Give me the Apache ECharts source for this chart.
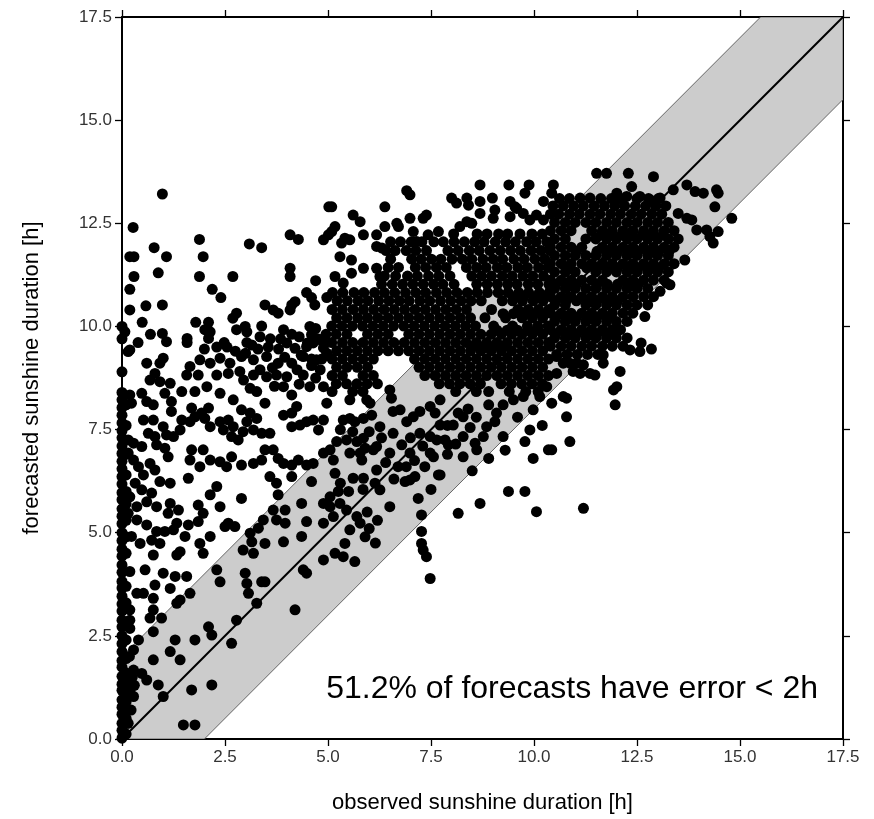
<!DOCTYPE html>
<html><head><meta charset="utf-8">
<script src="https://cdn.jsdelivr.net/npm/echarts@6/dist/echarts.min.js"></script>
<style>html,body{margin:0;padding:0;background:#fff}#c{width:874px;height:819px}</style>
</head><body><div id="c"></div>
<script>
// ---- axis / text ----
const axisMin = 0, axisMax = 17.5, axisStep = 2.5;
const xTitle = 'observed sunshine duration [h]';
const yTitle = 'forecasted sunshine duration [h]';
const note = '51.2% of forecasts have error < 2h';
const errorBand = 2;

// ---- points at observed ~0 h ----
const leftStrip = [
[0,0.02],[0,0.21],[0,0.38],[0,0.6],[0,0.77],[0,0.95],[0,1.18],[0,1.33],[0,1.52],[0,1.74],[0,1.9],[0,2.12],[0,2.31],[0,2.5],[0,2.72],[0,2.88],[0,3.1],[0,3.27],[0,3.46],[0,3.66],[0,3.82],[0,4.04],[0,4.22],[0,4.43],[0,4.6],[0,4.81],[0,5.0],[0,5.22],[0,5.4],[0,5.58],[0,5.8],[0,5.97],[0,6.18],[0,6.36],[0,6.55],[0,6.73],[0,6.92],[0,7.1],[0,7.3],[0,7.47],[0,7.66],[0,7.85],[0,8.03],[0,8.22],[0,8.4],[0,8.9],[0,9.7],[0,10.0],
[0.1,0.12],[0.1,0.5],[0.1,0.9],[0.1,1.1],[0.1,1.4],[0.1,1.6],[0.1,1.95],[0.1,2.4],[0.1,2.8],[0.1,3.3],[0.1,3.7],[0.1,4.5],[0.1,4.9],[0.1,5.3],[0.1,5.7],[0.1,6.0],[0.1,6.4],[0.1,6.9],[0.1,7.6],[0.1,8.1],
[0.22,0.7],[0.28,1.03],[0.3,1.3],[0.25,1.5],[0.28,1.67],[0.18,2.0],[0.15,0.38],[0.2,1.2],[0.03,0.1],[0.11,0.38]
];

// ---- observed 0-5 h, forecast above 9.4 h ----
const upperLeft = [
[0.98,13.21],[0.27,12.40],[0.19,11.69],[0.29,11.69],[0.78,11.91],[1.08,11.69],[0.88,11.30],[0.29,11.21],[0.19,10.90],[0.19,10.40],[0.58,10.50],[0.98,10.52],[0.49,10.10],[0.07,9.87],[0.39,9.61],[0.69,9.81],[0.98,9.83],[1.08,9.63],[1.58,9.71],[1.58,9.61],[1.88,12.11],[1.97,11.69],[1.88,11.21],[2.19,10.90],[2.40,10.70],[1.79,10.10],[2.10,10.10],[2.01,9.92],[2.14,9.87],[2.10,9.71],[2.48,9.61],[2.69,11.21],[3.09,12.00],[3.39,11.91],[2.69,10.20],[2.78,10.32],[2.78,9.92],[2.99,10.00],[3.03,9.87],[3.03,9.61],[3.15,9.55],[3.39,10.01],[3.47,10.52],[3.67,10.40],[3.79,10.32],[4.08,12.22],[4.28,12.11],[4.08,11.41],[4.08,11.21],[4.70,11.11],[4.48,10.82],[4.60,10.70],[4.68,10.52],[4.12,10.52],[4.20,10.60],[4.08,10.40],[4.97,10.70],[4.89,12.10],[5.01,12.22],[5.02,12.90],[3.92,9.92],[4.12,9.81],[4.56,10.00],[4.70,9.95],[4.60,9.80],[4.75,9.70],[4.90,9.60],[4.50,9.60],[0.19,9.43],[4.20,9.47],[4.48,9.51],[4.64,9.60],[4.81,9.68],[4.89,9.48],
[3.3,9.45],[3.55,9.5],[3.8,9.45],[4.0,9.6],[3.6,9.7],[3.35,9.75],[3.85,9.7],[4.3,9.75],[2.3,9.5],[2.0,9.45],[2.75,9.4],[2.55,9.5]
];

// ---- observed 0-5 h, forecast 4.6-9.4 h ----
const midLeft = [
[0.15,9.39],[0.6,9.11],[0.92,9.11],[1.0,9.23],[0.8,8.86],[0.68,8.70],[0.92,8.66],[1.17,8.62],
[1.65,9.03],[1.89,9.19],[2.14,9.11],[2.38,9.23],[2.62,9.11],[2.9,9.27],[3.19,9.19],[3.51,9.27],[3.79,9.11],[4.12,9.11],[4.4,9.27],[4.72,9.19],[4.97,9.35],
[1.57,8.82],[1.85,8.82],[2.3,8.82],[2.58,8.86],[2.86,8.91],[3.19,8.82],[3.51,8.78],[3.75,8.82],[4.0,8.78],[4.4,8.82],[4.81,8.95],
[1.45,8.42],[1.77,8.42],[2.06,8.54],[2.38,8.38],[2.7,8.22],[3.11,8.50],[3.27,8.42],[3.47,8.14],[3.92,8.54],[4.12,8.34],[4.56,8.54],[4.89,8.54],
[4.35,9.3],[3.0,9.35],[3.95,9.25],[4.6,9.05],[4.25,8.95],[3.65,9.0],[3.35,8.95],[2.95,8.7],[3.7,8.55],[4.3,8.6],[4.7,8.75],
[0.19,8.34],[0.48,8.38],[0.23,8.14],[0.6,8.18],[0.76,8.10],[1.04,8.38],[1.2,8.18],[1.2,7.94],
[1.69,8.02],[1.77,7.81],[1.93,7.90],[2.1,8.02],[2.01,7.77],[2.14,7.57],[2.38,7.69],[2.58,7.73],[2.46,7.49],[2.7,7.57],[2.66,7.33],[2.82,7.25],
[2.9,7.98],[3.11,7.90],[3.27,7.77],[3.03,7.69],[3.19,7.49],[2.94,7.45],[3.39,7.41],[3.59,7.41],
[3.92,7.85],[4.12,7.90],[4.24,8.06],[4.12,7.57],[4.32,7.61],[4.48,7.69],[4.64,7.73],[4.77,7.49],[4.89,7.73],[4.97,8.14],
[0.52,7.73],[0.76,7.73],[1.0,7.57],[0.64,7.41],[0.8,7.33],[1.08,7.37],[1.25,7.33],[1.45,7.73],[1.41,7.49],[1.65,7.69],
[0.15,7.25],[0.28,7.17],[0.48,7.09],[0.84,7.13],[1.04,7.05],[1.12,6.84],[0.15,6.93],[0.28,6.76],[0.4,6.60],[0.52,6.40],[0.68,6.68],[0.8,6.52],[0.92,6.24],[1.17,6.20],[0.32,6.20],[0.48,6.04],[0.72,5.96],[0.19,5.87],[0.6,5.75],[0.36,5.63],[0.84,5.63],[1.17,5.71],[1.12,5.47],[1.37,5.55],[0.15,5.47],[0.36,5.31],[0.6,5.19],[0.84,5.03],[1.04,5.03],[1.25,5.07],[0.23,4.91],[0.44,4.74],[0.92,4.74],[0.72,4.82],
[1.69,7.01],[1.97,7.01],[1.65,6.76],[1.61,6.32],[1.89,6.60],[2.14,6.76],[2.38,6.72],[2.54,6.60],[2.66,6.84],[2.9,6.64],[3.19,6.68],[3.39,6.76],[3.47,7.01],[3.67,7.01],[3.79,6.80],[3.92,6.68],[4.12,6.64],[4.28,6.76],[4.48,6.64],[4.64,6.68],[4.89,6.93],[3.59,6.36],[4.12,6.36],[4.6,6.24],[3.75,6.20],
[2.3,6.12],[2.14,5.92],[2.38,5.63],[2.58,5.23],[2.5,5.15],[2.74,5.15],[2.9,5.83],[1.85,5.67],[1.97,5.47],[1.85,5.27],[1.61,5.19],[1.53,4.91],[1.33,5.23],[2.14,4.91],[1.89,4.74],
[3.79,5.92],[3.67,5.55],[3.96,5.55],[3.75,5.31],[3.96,5.23],[4.36,5.71],[4.89,5.71],[3.43,5.31],[3.31,5.11],[3.11,4.99],[3.15,4.78],[3.47,4.74],[4.36,4.91],[3.92,4.78],[4.89,5.23],[4.48,5.27]
];

// ---- observed 0-5 h, forecast below 4.6 h ----
const lowLeft = [
[0.76,4.46],[1.33,4.46],[1.41,4.54],[1.97,4.50],[0.56,4.10],[1.0,4.02],[1.29,3.94],[1.57,3.94],[1.17,3.65],[0.8,3.73],[0.19,4.06],[0.36,3.53],[0.52,3.53],[0.76,3.41],[1.33,3.29],[1.41,3.37],[1.65,3.53],
[0.76,3.13],[0.68,2.93],[0.96,2.93],[0.19,3.13],[0.19,2.88],[0.19,2.68],[0.4,2.40],[0.76,2.60],
[2.3,4.10],[2.38,3.81],[2.99,4.02],[3.03,3.77],[3.07,3.53],[3.39,3.81],[3.47,3.81],[3.27,3.29],[2.78,2.88],[2.94,4.58],[3.19,4.50],
[2.1,2.72],[2.18,2.52],[1.29,2.40],[1.77,2.40],[2.66,2.32],
[0.28,2.16],[1.17,2.12],[1.41,1.92],[0.76,1.92],[0.48,1.59],[0.6,1.43],[0.88,1.31],[1.0,1.03],[1.69,1.19],[2.18,1.31],[1.49,0.34],[1.77,0.34],
[4.2,3.13],[4.4,4.10],[4.48,4.02],[4.89,4.34]
];

// ---- observed 5-10.4 h, upper sparse ----
const upperMid = [
[6.91,13.29],[6.99,13.19],[6.38,12.90],[5.09,12.90],[8.69,13.43],[9.39,13.43],[9.88,13.43],[9.78,13.23],[8.00,13.11],[8.12,12.99],[8.37,13.11],[8.41,12.94],[8.69,13.03],[8.99,13.11],[9.42,13.03],[9.54,12.90],[10.23,13.03],[8.69,12.74],[9.05,12.82],[9.01,12.62],[5.61,12.70],[5.78,12.54],[6.67,12.50],[6.71,12.42],[6.99,12.62],[7.31,12.62],[7.39,12.70],[6.38,12.42],[5.17,12.42],[5.09,12.30],[5.86,12.22],[6.18,12.22],[5.41,12.14],[5.33,12.02],[5.53,12.10],[7.07,12.30],[7.15,12.06],[7.43,12.22],[7.68,12.30],[8.20,12.42],[8.37,12.54],[8.49,12.50],[9.42,12.66],[9.58,12.86],[9.74,12.74],[10.06,12.70],[9.90,12.58],[10.23,12.58],[5.29,11.69],[5.57,11.61],[5.17,11.21],[5.37,11.05],[5.57,11.29],[5.86,11.41],[6.18,11.94],[6.31,11.90],[6.18,11.41],[6.26,11.21]
];

// ---- observed 5-10.4 h, dense core: [forecast, observed...] ----
const coreMidRows = [
[12.24, 8.05,8.62,8.86,9.14,9.36,9.66,9.95,10.2],
[12.05, 6.52,6.76,7.02,7.28,7.57,7.8,8.06,8.31,8.56,8.79,9.06,9.31,9.55,9.82,10.05,10.31],
[11.84, 6.41,6.63,6.9,7.13,7.39,7.91,8.16,8.43,8.67,8.93,9.18,9.43,9.67,9.93,10.17,10.39],
[11.63, 6.52,7.03,7.26,7.51,7.74,8.01,8.26,8.49,8.76,9.01,9.24,9.51,9.76,10.02,10.26],
[11.43, 6.46,6.71,7.12,7.37,7.63,7.87,8.36,8.61,8.84,9.11,9.34,9.61,9.84,10.11,10.34],
[11.22, 6.37,6.64,6.93,7.17,7.44,7.69,7.96,8.49,8.73,8.97,9.23,9.47,9.73,9.97,10.23],
[11.02, 6.3,6.56,6.81,7.06,7.31,7.56,7.79,8.06,8.61,8.86,9.11,9.36,9.59,9.86,10.09,10.36],
[10.82, 5.11,5.36,5.63,5.87,6.13,6.37,6.62,6.88,7.13,7.37,7.63,7.88,8.13,8.38,8.62,8.87,9.13,9.37,9.63,9.87,10.13,10.37],
[10.72, 9.5,9.75,10.0,10.25],
[10.62, 5.22,5.47,5.73,5.97,6.23,6.48,6.73,6.97,7.23,7.47,7.73,7.98,8.23,8.47,8.72,9.23,9.48,9.72,9.98,10.22],
[10.41, 5.1,5.35,5.61,5.86,6.11,6.36,6.61,6.86,7.11,7.36,7.61,7.86,8.11,8.36,8.97,9.61,9.86,10.11,10.36],
[10.31, 9.25,9.5,9.75,10.0,10.25],
[10.21, 5.21,5.46,5.72,5.96,6.21,6.46,6.71,6.96,7.21,7.46,7.71,7.96,8.21,8.46,8.81,9.31,9.71,9.96,10.21],
[10.01, 5.09,5.34,5.59,5.84,6.09,6.34,6.59,6.84,7.09,7.34,7.59,7.84,8.09,8.34,8.58,9.02,9.48,9.84,10.09,10.34],
[9.91, 9.1,9.35,9.6,9.85,10.1],
[9.81, 4.95,5.2,5.46,5.96,6.21,6.46,6.96,7.21,7.46,7.71,7.96,8.21,8.46,8.71,8.96,9.21,9.46,9.71,9.96,10.21],
[9.61, 5.09,5.35,5.6,5.85,6.1,6.35,6.6,6.85,7.1,7.35,7.6,7.85,8.1,8.35,8.6,8.85,9.1,9.35,9.6,9.85,10.1,10.35],
[9.51, 8.5,8.75,9.0,9.25],
[9.41, 5.21,5.46,5.71,5.96,6.21,6.46,6.71,6.96,7.21,7.46,7.71,7.96,8.21,8.46,8.71,8.96,9.21,9.46,9.71,9.96,10.21],
[9.21, 4.6,4.85,5.1,5.35,5.6,5.85,6.1,7.1,7.35,7.6,7.85,8.1,8.35,8.6,8.85,9.1,9.35,9.6,9.85,10.1,10.35],
[9.01, 5.21,5.46,5.71,5.96,7.21,7.46,7.71,7.96,8.21,8.46,8.71,8.96,9.21,9.46,9.71,9.96,10.21],
[8.81, 5.1,5.35,5.85,6.1,7.35,7.6,7.85,8.1,8.35,8.6,8.85,9.1,9.35,9.6,9.85,10.1,10.35],
[8.61, 5.2,5.45,5.7,5.95,6.2,7.7,7.95,8.2,8.45,8.7,9.2,9.45,9.7,9.95,10.2],
[8.42, 5.1,5.6,5.85,8.1,8.6,8.9,9.4,9.8,10.1]
];

// ---- observed 5-10.4 h, below the dense core ----
const lowerMid = [
[5.53,8.22],[5.94,8.22],[6.02,8.14],[5.37,7.73],[5.53,7.77],[5.65,7.69],[5.86,7.77],[6.06,7.85],[6.50,8.46],[6.54,8.26],[6.58,7.94],[6.75,7.98],[6.91,7.69],[7.07,7.81],[7.23,7.94],[7.48,8.06],[7.72,8.22],[6.26,7.57],[6.58,7.41],[6.79,7.13],[6.99,6.93],[7.23,7.41],[7.48,7.33],[7.72,7.61],[5.05,7.01],[5.21,7.21],[5.45,7.25],[5.70,7.21],[5.86,7.29],[5.13,6.76],[5.17,6.44],[5.53,6.93],[5.78,6.93],[5.82,6.76],[6.10,7.01],[6.18,7.09],[5.61,6.32],[5.86,6.32],[6.18,6.52],[6.14,6.20],[6.26,6.04],[6.50,6.93],[7.48,6.93],[7.56,6.84],[7.72,6.40],[7.64,7.25],[7.84,7.25],[7.92,7.13],[8.04,7.61],[8.16,7.90],[8.28,7.81],[8.28,7.33],[8.57,7.17],[8.61,7.01],[8.77,7.33],[8.85,7.57],[9.05,7.69],[9.09,7.90],[9.25,8.10],[9.50,8.22],[9.74,8.30],[9.98,7.98],[10.14,8.30],[10.31,8.54],[9.25,7.33],[8.28,6.84],[6.87,6.24],[6.99,6.28],[7.11,6.36],[7.19,5.83],[6.50,5.63],[7.27,5.43],[7.27,5.03],[7.27,4.74],[7.68,6.40],[8.16,5.47],[8.69,5.71],[9.38,6.00],[9.78,6.00],[10.06,5.51],[9.90,7.49],[9.78,7.21],[9.98,6.80],[10.35,7.01],[5.05,5.87],[5.29,5.71],[5.45,5.55],[5.70,5.39],[5.78,5.23],[5.53,5.07],[5.41,4.74],[5.05,5.63],[5.13,5.39],
[5.3,7.5],[5.6,7.45],[6.0,7.45],[6.3,7.3],[5.9,7.05],[6.4,6.7],[6.7,6.6],[6.9,6.6],[6.6,6.3],[7.0,7.3],[7.3,7.1],[7.1,6.75],[7.35,6.6],[7.9,6.9],[8.1,7.15],[8.45,7.55],[8.6,7.8],[8.9,8.1],[7.9,7.6],[7.6,7.9],[8.4,8.0],[5.3,6.2],[5.5,6.0],[5.85,6.05],[5.25,6.0],[7.5,6.05],[8.5,6.5],[8.9,6.8],[9.3,7.0],[9.6,7.8],[10.2,7.6],[5.95,5.5],[6.2,5.3],[5.9,4.9],[6.15,4.75],[6.0,5.1],
[5.17,4.50],[5.37,4.42],[5.65,4.30],[7.31,4.58],[7.39,4.42],[7.48,3.89]
];

// ---- observed above 10.4 h, sparse ----
const upperRight = [
[11.52,13.71],[11.76,13.71],[12.29,13.71],[12.90,13.63],[10.47,13.43],[10.43,13.23],[11.12,13.11],[11.36,13.11],[12.37,13.39],[12.01,13.23],[12.25,13.15],[12.57,13.15],[12.82,13.07],[13.06,13.11],[13.38,13.31],[13.71,13.43],[13.91,13.27],[14.11,13.23],[14.43,13.31],[14.47,13.23],[14.39,12.90],[14.80,12.62],[13.50,12.74],[13.71,12.62],[13.83,12.58],[13.95,12.34],[14.19,12.34],[14.27,12.18],[14.47,12.30],[14.35,12.02],[13.66,11.61],[12.69,10.24],[13.22,11.05],[13.30,11.01],[13.06,10.85],[12.6,9.6],[12.85,9.45]
];

// ---- observed above 10.4 h, dense core: [forecast, observed...] ----
const coreRightRows = [
[13.1, 10.62,10.86,11.62,11.88,12.08,12.5,12.78,13.02],
[12.92, 10.46,10.71,10.96,11.2,11.46,11.71,11.96,12.2,12.46,12.71,12.96,13.2],
[12.72, 10.4,10.6,10.86,11.1,11.36,11.6,11.86,12.1,12.36,12.6,12.86,13.1],
[12.52, 10.5,10.76,11.0,11.26,11.5,11.76,12.0,12.26,12.5,12.76,13.0,13.26],
[12.32, 10.4,10.66,10.9,11.4,11.66,11.9,12.16,12.4,12.66,12.9,13.16,13.4],
[12.22, 11.63,11.88,12.13,12.38,12.63,12.88,13.13],
[12.12, 10.5,10.76,11.26,11.5,11.76,12.0,12.26,12.5,12.76,13.0,13.26,13.5],
[11.92, 10.4,10.66,10.9,11.16,11.66,11.9,12.16,12.4,12.66,12.9,13.16,13.4],
[11.82, 11.03,11.53,11.78,12.03,12.28,12.53,12.78,13.03,13.28],
[11.72, 10.5,10.76,11.0,11.26,11.5,11.76,12.0,12.26,12.5,12.76,13.0,13.26],
[11.52, 10.4,10.66,10.9,11.16,11.4,11.66,11.9,12.16,12.4,12.66,12.9,13.16,13.4],
[11.42, 10.78,11.28,11.53,11.78,12.03,12.28,12.53,12.78,13.03],
[11.32, 10.5,10.76,11.0,11.5,11.76,12.0,12.26,12.5,12.76,13.0,13.26],
[11.12, 10.4,10.66,10.9,11.16,11.4,11.66,12.16,12.4,12.66,12.9,13.16],
[11.02, 10.53,10.78,11.03,11.53,11.78,12.03,12.28,12.53],
[10.92, 10.5,10.76,11.0,11.26,11.5,11.76,12.0,12.26,12.5,12.76],
[10.72, 10.4,10.66,10.9,11.16,11.4,11.66,11.9,12.16,12.4,12.66,12.9],
[10.62, 10.53,10.78,11.03,11.28,11.53,11.78,12.03],
[10.52, 10.5,10.76,11.26,11.5,11.76,12.0,12.26,12.5,12.76],
[10.32, 10.4,10.66,10.9,11.16,11.4,11.66,11.9,12.16,12.4],
[10.22, 10.53,10.78,11.03,11.28,11.53,11.78],
[10.12, 10.5,10.76,11.0,11.26,11.5,11.76,12.0,12.26],
[9.92, 10.4,10.66,10.9,11.16,11.4,11.66,11.9,12.1],
[9.82, 10.53,10.78,11.03,11.28,11.53,11.78],
[9.72, 10.5,10.76,11.0,11.26,11.5,11.76,12.0,12.26],
[9.52, 10.4,10.66,10.9,11.16,11.4,11.66,11.9,12.16],
[9.32, 10.55,10.8,11.05,11.3,11.55]
];

// ---- observed above 10.4 h, below the core ----
const lowerRight = [
[11.68,9.31],[11.68,9.11],[12.09,8.91],[12.57,9.39],[12.33,9.43],[11.93,8.46],[12.01,8.54],[11.97,8.10],[10.71,8.30],[10.79,8.26],[10.43,8.14],[10.79,7.81],[10.87,7.21],[10.43,7.01],[11.20,5.59],[10.55,9.27],[10.71,9.11],[10.87,9.11],[11.04,9.11],[11.20,9.07],[11.36,8.86],[11.48,8.82],[10.55,8.86],[10.95,8.91],[11.12,8.86]
];

// ---- build ----
function fromRows(rows){ const out=[]; rows.forEach(r=>{ for(let i=1;i<r.length;i++) out.push([r[i], r[0]]); }); return out; }
const points = [].concat(leftStrip, upperLeft, midLeft, lowLeft, upperMid, fromRows(coreMidRows), lowerMid, upperRight, fromRows(coreRightRows), lowerRight);

const bandPoly = [[axisMin,axisMin],[axisMin,axisMin+errorBand],[axisMax-errorBand,axisMax],[axisMax,axisMax],[axisMax,axisMax-errorBand],[axisMin+errorBand,axisMin]];

const font = 'Liberation Sans';
function mkAxis(pos, primary, name, gap, rotate){
  return {
    type:'value', min:axisMin, max:axisMax, interval:axisStep, position:pos,
    axisLine:{show:true, onZero:false, lineStyle:{color:'#000', width:2}},
    axisTick:{show:true, inside:false, length:7, lineStyle:{color:'#000', width:1.3}},
    axisLabel:{show:primary, formatter:v=>v.toFixed(1), fontSize:17, color:'#333', fontFamily:font, margin:10},
    splitLine:{show:false},
    name: primary ? name : '', nameLocation:'middle', nameGap:gap, nameRotate:rotate,
    nameTextStyle:{fontSize:22, color:'#000', fontFamily:font}
  };
}

const chart = echarts.init(document.getElementById('c'), null, {renderer:'canvas'});
chart.setOption({
  animation:false,
  backgroundColor:'#fff',
  grid:{left:122, right:31, top:17, bottom:80, containLabel:false},
  xAxis:[mkAxis('bottom', true, xTitle, 53, 0), mkAxis('top', false, '', 0, 0)],
  yAxis:[mkAxis('left', true, yTitle, 79, 90), mkAxis('right', false, '', 0, 0)],
  series:[
    {type:'custom', clip:true, xAxisIndex:0, yAxisIndex:0, data:[0], z:1, silent:true,
     renderItem:(p, api)=>({type:'polygon', shape:{points: bandPoly.map(q=>api.coord(q))},
       style:{fill:'#cccccc', stroke:'#666', lineWidth:1}})},
    {type:'line', data:[[axisMin,axisMin],[axisMax,axisMax]], symbol:'none', z:2,
     lineStyle:{color:'#000', width:2}, silent:true},
    {type:'scatter', data:points, symbol:'circle', symbolSize:11, z:3,
     itemStyle:{color:'#000', opacity:1}, silent:true, large:false}
  ],
  graphic:[{type:'text', x:818, y:689, z:10,
    style:{text:note, font:'32px "Liberation Sans"', fill:'#000', textAlign:'right', textVerticalAlign:'middle'}}]
});
</script>
</body></html>
